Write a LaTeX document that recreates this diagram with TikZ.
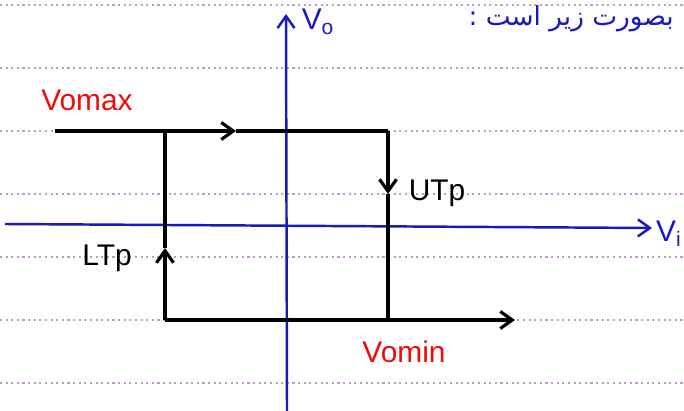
\documentclass[tikz,border=0pt]{standalone}
\usepackage{fontspec}
\setmainfont{Liberation Sans}
\newfontfamily\farsifont[Script=Arabic]{DejaVu Sans}
\TeXXeTstate=1
\usepackage{tikz}
\usetikzlibrary{arrows.meta}
\definecolor{axisblue}{RGB}{25,25,190}
\definecolor{lblred}{RGB}{240,10,10}
\definecolor{ruled}{RGB}{195,150,205}

\begin{document}
\begin{tikzpicture}[x=0.2mm,y=-0.2mm,
  >={Straight Barb[length=2.4mm,width=3.4mm]},
  ax/.style={->,axisblue,line width=1.4pt},
  lp/.style={black,line width=1.8pt},
  lpa/.style={->,black,line width=1.8pt},
  lb/.style={font=\fontsize{17}{20}\selectfont,inner sep=1pt},
  rl/.style={ruled,line width=1.2pt,dotted}]
  \clip (0,0) rectangle (684,411);
  \fill[white] (0,0) rectangle (684,411);
  % ruled paper
  \foreach \y in {5,68,131,194,257,320,383}
    \draw[rl] (0,\y) -- (684,\y);
  \node[anchor=base east,text=axisblue,font=\farsifont\fontsize{15}{18}\selectfont] (note) at (680,26) {\beginR بصورت زیر است :\endR};
  % axes
  \coordinate (xo) at (5,224);
  \coordinate (xe) at (652,228);
  \coordinate (yo) at (287,411);
  \coordinate (ye) at (286,14);
  \draw[ax] (xo) -- (xe);
  \draw[ax] (yo) -- (ye);
  \node[lb,text=axisblue] (vo) at (318,22) {V\textsubscript{o}};
  \node[lb,text=axisblue,anchor=west] (vi) at (654,234) {V\textsubscript{i}};
  % loop
  \coordinate (A) at (55,131);
  \coordinate (B) at (165,131);
  \coordinate (C) at (388,131);
  \coordinate (D) at (388,320);
  \coordinate (E) at (165,320);
  \coordinate (F) at (515,320);
  \coordinate (t1) at (236,131);
  \coordinate (r1) at (388,194);
  \coordinate (l1) at (165,248);
  \draw[lpa] (A) -- (t1);
  \draw[lp] (t1) -- (C);
  \draw[lpa] (C) -- (r1);
  \draw[lp] (r1) -- (D);
  \draw[lpa] (E) -- (F);
  \draw[lpa] (E) -- (l1);
  \draw[lp] (l1) -- (B);
  % labels
  \node[lb,text=lblred] (vmax) at (87,100) {Vomax};
  \node[lb] (utp) at (437,193) {UTp};
  \node[lb] (ltp) at (107,258) {LTp};
  \node[lb,text=lblred] (vmin) at (404,352) {Vomin};
\end{tikzpicture}
\end{document}
